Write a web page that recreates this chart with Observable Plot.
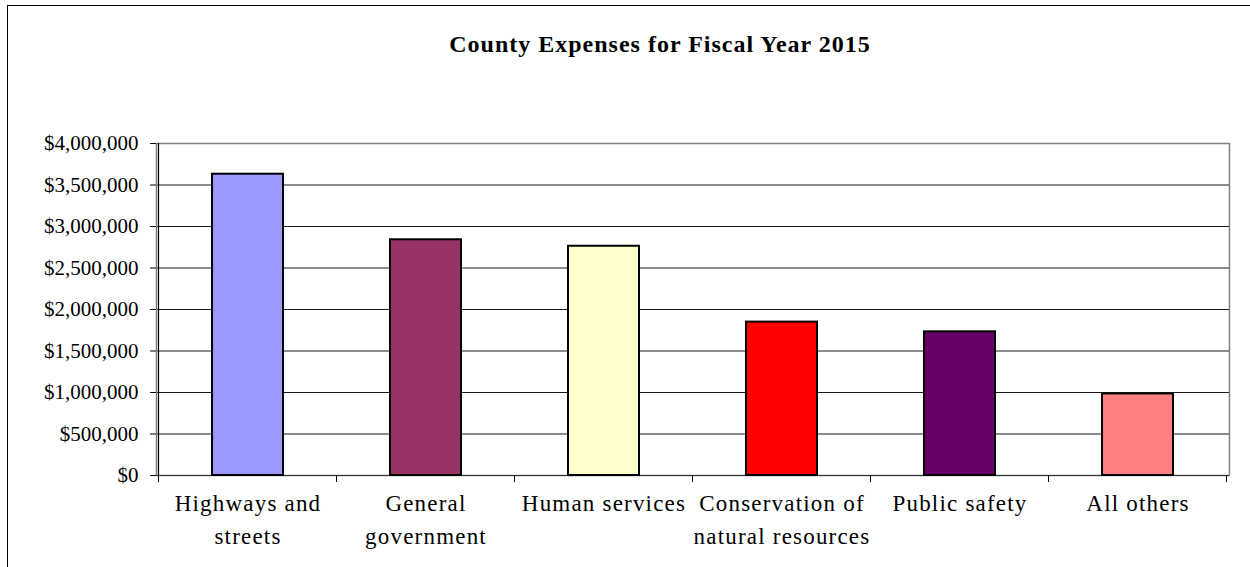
<!DOCTYPE html>
<html><head><meta charset="utf-8">
<script src="https://cdn.jsdelivr.net/npm/d3@7"></script>
<script src="https://cdn.jsdelivr.net/npm/@observablehq/plot@0.6"></script>
<style>
html,body{margin:0;padding:0;background:#fff;}
body{width:1250px;height:567px;overflow:hidden;position:relative;font-family:"Liberation Serif","Times New Roman",serif;}
#frame{position:absolute;left:7px;top:5px;width:1300px;height:600px;border-left:1px solid #000;border-top:1px solid #000;box-sizing:border-box;z-index:5;pointer-events:none;background:transparent;}
#title{position:absolute;left:0;top:30px;width:1320px;text-align:center;font-weight:bold;font-size:24px;letter-spacing:1px;line-height:28px;color:#000;z-index:4;}
#chart{position:absolute;left:0;top:123px;}
</style>
</head><body>
<div id="frame"></div>
<div id="title">County Expenses for Fiscal Year 2015</div>
<div id="chart"></div>
<script>
const categories = ["Highways and\nstreets", "General\ngovernment", "Human services", "Conservation of\nnatural resources", "Public safety", "All others"];
const values = [3630000, 2840000, 2762000, 1848000, 1731000, 982000];
const colors = ["#9999FF", "#993366", "#FFFFCC", "#FF0000", "#660066", "#FF8080"];
const yTicks = [0, 500000, 1000000, 1500000, 2000000, 2500000, 3000000, 3500000, 4000000];

const data = categories.map((c, i) => ({category: c, value: values[i]}));

const axisDecor = (index, scales, values, dims) => {
  const x = scales.x;
  const step = x.step(), bw = x.bandwidth();
  const off = (step - bw) / 2;
  const y0 = dims.height - dims.marginBottom;
  const xs = categories.map(c => x(c) - off).concat([x(categories[categories.length - 1]) + bw + off]);
  const g = d3.create("svg:g");
  g.selectAll("line.t").data(xs).join("line").attr("class", "t")
    .attr("x1", d => d).attr("x2", d => d)
    .attr("y1", y0).attr("y2", y0 + 7)
    .attr("stroke", "#000").attr("stroke-width", 1);
  g.append("line")
    .attr("x1", xs[0]).attr("x2", xs[0])
    .attr("y1", dims.marginTop).attr("y2", y0)
    .attr("stroke", "#000").attr("stroke-width", 1.2);
  return g.node();
};

const chart = Plot.plot({
  width: 1250,
  height: 444,
  marginLeft: 156,
  marginRight: 21,
  marginTop: 20,
  marginBottom: 92,
  style: {fontFamily: "'Liberation Serif','Times New Roman',serif", color: "#000", background: "#fff"},
  x: {domain: categories, paddingInner: 0.6, paddingOuter: 0.3, label: null},
  y: {domain: [0, 4000000], label: null},
  color: {domain: categories, range: colors},
  marks: [
    Plot.gridY(yTicks, {stroke: "#000", strokeOpacity: 0.9, strokeWidth: 1}),
    Plot.frame({stroke: "#808080", strokeWidth: 1.5}),
    Plot.ruleY([0], {stroke: "#333"}),
    Plot.barY(data, {x: "category", y: "value", fill: "category", stroke: "#000", strokeWidth: 2}),
    Plot.axisY({ticks: yTicks, tickFormat: d => "$" + d3.format(",")(d), tickSize: 6, tickPadding: 12, fontSize: 21, stroke: "#000"}),
    Plot.axisX({tickSize: 0, tickPadding: 13, fontSize: 23, lineHeight: 1.4}),
    axisDecor
  ]
});
d3.select(chart).selectAll('g[aria-label="x-axis tick label"] text').style("letter-spacing", "1.2px");
document.getElementById("chart").appendChild(chart);
</script>
</body></html>
